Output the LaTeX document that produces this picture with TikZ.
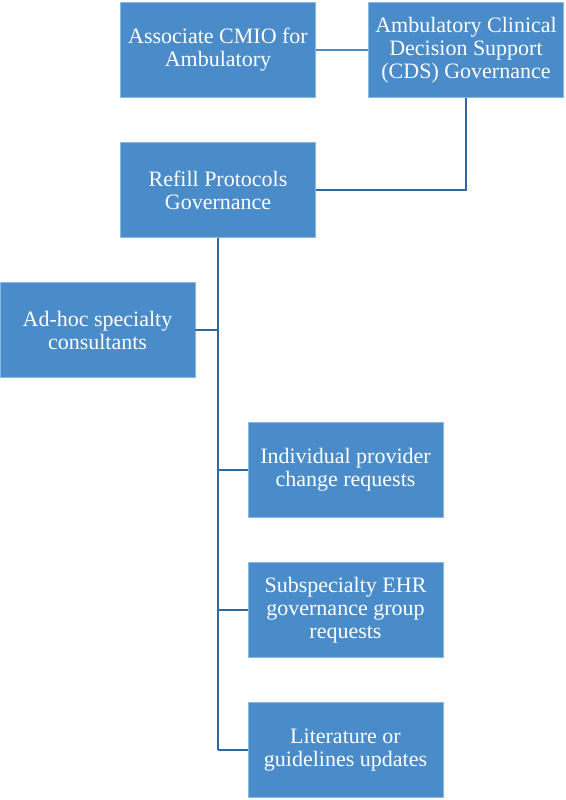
\documentclass[tikz,border=0pt]{standalone}
\usepackage{fontspec}
\setmainfont{Liberation Serif}
\usepackage{xcolor}
\definecolor{boxfill}{HTML}{4A8BCA}
\definecolor{boxedge}{HTML}{8CB8E2}
\definecolor{wire}{HTML}{2B68A8}
\usetikzlibrary{positioning,calc}
\tikzset{
  unit/.style={draw=boxedge,fill=boxfill,line width=0.8pt,minimum width=195pt,minimum height=95pt,
    inner sep=2pt,align=center,text=white,font=\fontsize{22}{23}\selectfont},
  link/.style={draw=wire,line width=1.8pt},
}
\begin{document}
\begin{tikzpicture}[x=1pt,y=1pt]
\useasboundingbox (0,0) rectangle (565,800);
\node[unit] (cmio) at (218,750) {Associate CMIO for\\Ambulatory};
\node[unit] (cds) at (466,750) {Ambulatory Clinical\\Decision Support\\(CDS) Governance};
\node[unit] (refill) at (218,610) {Refill Protocols\\Governance};
\node[unit] (adhoc) at (97.5,470) {Ad-hoc specialty\\consultants};
\node[unit] (indiv) at (345.5,330) {Individual provider\\change requests};
\node[unit] (subsp) at (345.5,190) {Subspecialty EHR\\governance group\\requests};
\node[unit] (lit) at (345.5,50) {Literature or\\guidelines updates};
% trunk
\coordinate (trunk) at (refill.south |- lit);
\draw[link,line width=1.2pt,draw=boxfill] (cmio) -- (cds);
\draw[link] (refill.east) -| (cds.south);
\draw[link] (refill.south) -- (trunk);
\foreach \n in {adhoc,indiv,subsp,lit} \draw[link] (\n) -- (refill.south |- \n);
\end{tikzpicture}
\end{document}
